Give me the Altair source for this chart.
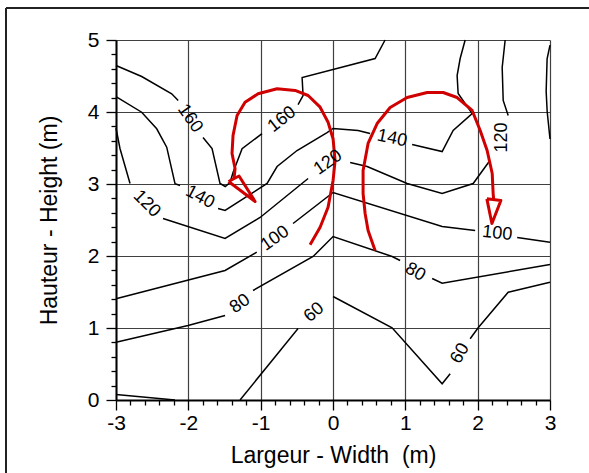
import altair as alt
import pandas as pd

# ---- contour pieces (x in m, y in m), broken where labels sit ----
c160a_x = [-3.0, -2.645, -2.23, -2.14]
c160a_y = [4.646, 4.493, 4.253, 4.16]
c160b_x = [-1.797, -1.672, -1.562, -1.49, -1.423, -1.382, -1.257, -0.981]
c160b_y = [3.646, 3.493, 3.007, 2.965, 3.02, 3.16, 3.49, 3.70]
c160c_x = [-0.483, -0.414, -0.427, 0.582, 0.72]
c160c_y = [4.104, 4.229, 4.479, 4.743, 5.0]

c140a_x = [-3.0, -2.645, -2.437, -2.299, -2.184, -2.115]
c140a_y = [4.215, 3.997, 3.767, 3.511, 3.003, 2.979]
c140b_x = [-1.589, -1.492, -0.911, -0.773, -0.497, -0.082, 0.001, 0.347, 0.513]
c140b_y = [2.660, 2.632, 3.007, 3.243, 3.465, 3.715, 3.771, 3.743, 3.701]
c140c_x = [1.094, 1.509, 1.661, 1.924, 1.730, 1.716, 1.758, 1.827]
c140c_y = [3.549, 3.451, 3.743, 3.979, 4.257, 4.507, 4.743, 5.0]

c120a_x = [-3.0, -2.945, -2.806]
c120a_y = [3.775, 3.493, 3.007]
c120b_x = [-2.350, -1.492, -1.008, -0.344]
c120b_y = [2.521, 2.243, 2.535, 3.076]
c120c_x = [0.237, 0.472, 1.025, 1.509, 1.938, 2.159]
c120c_y = [3.299, 3.243, 3.007, 2.868, 3.007, 3.313]
c120d_x = [2.422, 2.353, 2.339, 2.380]
c120d_y = [3.951, 4.160, 4.618, 5.0]

cedge_x = [3.0, 2.96, 2.947, 2.961, 3.0]
cedge_y = [4.93, 4.74, 4.285, 4.007, 3.625]

c100a_x = [-3.0, -1.492, -1.054]
c100a_y = [1.406, 1.799, 2.053]
c100b_x = [-0.552, 0.001, 1.509, 1.965]
c100b_y = [2.451, 2.882, 2.410, 2.354]
c100c_x = [2.546, 3.0]
c100c_y = [2.257, 2.19]

c80a_x = [-3.0, -2.004, -1.492]
c80a_y = [0.803, 1.035, 1.174]
c80b_x = [-1.105, -0.275, 0.001, 0.817, 0.928]
c80b_y = [1.521, 1.993, 2.271, 1.993, 1.938]
c80c_x = [1.371, 1.509, 3.0]
c80c_y = [1.688, 1.622, 1.882]

c60a_x = [-1.285, -0.483]
c60a_y = [0.0, 0.993]
c60b_x = [0.001, 0.817, 1.509, 1.620]
c60b_y = [1.438, 1.003, 0.225, 0.364]
c60c_x = [1.896, 2.007, 2.422, 3.0]
c60c_y = [0.85, 1.003, 1.497, 1.636]

c40_x = [-3.0, -2.184]
c40_y = [0.076, 0.0]

# ---- contour labels ----
lab_text = ["160", "160", "140", "140", "120", "120", "120", "100", "100", "80", "80", "60", "60"]
lab_x = [-1.976, -0.704, -1.838, 0.817, -2.575, -0.068, 2.339, -0.801, 2.270, -1.285, 1.136, -0.261, 1.758]
lab_y = [3.91, 3.896, 2.817, 3.632, 2.725, 3.299, 3.646, 2.243, 2.313, 1.336, 1.775, 1.215, 0.646]
lab_angle = [55, 322, 28, 12, 45, 325, 270, 325, 6, 325, 30, 320, 300]

# ---- red circulation arrows ----
arrL_x = [-0.317, -0.178, -0.068, 0.001, 0.029, 0.001, -0.068, -0.178, -0.344, -0.524,
          -0.773, -1.036, -1.216, -1.326, -1.382, -1.396, -1.354, -1.368]
arrL_y = [2.156, 2.400, 2.678, 3.049, 3.326, 3.628, 3.858, 4.067, 4.229, 4.299,
          4.322, 4.253, 4.136, 3.951, 3.674, 3.424, 3.215, 3.076]
headL_x = [-1.444, -1.077, -1.299, -1.444]
headL_y = [3.035, 2.757, 3.111, 3.035]
arrR_x = [0.582, 0.485, 0.444, 0.416, 0.416, 0.485, 0.610, 0.790, 1.025, 1.302,
          1.523, 1.716, 1.924, 2.035, 2.131, 2.201, 2.214, 2.221]
arrR_y = [2.076, 2.354, 2.590, 2.868, 3.188, 3.563, 3.840, 4.063, 4.201, 4.271,
          4.271, 4.201, 4.021, 3.743, 3.465, 3.146, 2.868, 2.785]
headR_x = [2.127, 2.197, 2.321, 2.127]
headR_y = [2.794, 2.451, 2.771, 2.794]

# axis tick values (major + minor)
x_ticks = [round(-3 + 0.2 * k, 1) for k in range(31)]
y_ticks = [round(0.2 * k, 1) for k in range(26)]

contour_pieces = {
    "160a": (c160a_x, c160a_y), "160b": (c160b_x, c160b_y), "160c": (c160c_x, c160c_y),
    "140a": (c140a_x, c140a_y), "140b": (c140b_x, c140b_y), "140c": (c140c_x, c140c_y),
    "120a": (c120a_x, c120a_y), "120b": (c120b_x, c120b_y), "120c": (c120c_x, c120c_y),
    "120d": (c120d_x, c120d_y), "edge": (cedge_x, cedge_y),
    "100a": (c100a_x, c100a_y), "100b": (c100b_x, c100b_y), "100c": (c100c_x, c100c_y),
    "80a": (c80a_x, c80a_y), "80b": (c80b_x, c80b_y), "80c": (c80c_x, c80c_y),
    "60a": (c60a_x, c60a_y), "60b": (c60b_x, c60b_y), "60c": (c60c_x, c60c_y),
    "40": (c40_x, c40_y),
}
red_pieces = {
    "arrL": (arrL_x, arrL_y), "headL": (headL_x, headL_y),
    "arrR": (arrR_x, arrR_y), "headR": (headR_x, headR_y),
}


def to_rows(pieces):
    rows = []
    for name, (xs, ys) in pieces.items():
        for i, (xv, yv) in enumerate(zip(xs, ys)):
            rows.append({"piece": name, "i": i, "x": xv, "y": yv})
    return pd.DataFrame(rows)


contours = to_rows(contour_pieces)
reds = to_rows(red_pieces)
labels = pd.DataFrame({"x": lab_x, "y": lab_y, "t": lab_text, "a": lab_angle})

FONT = "Liberation Sans"

xscale = alt.Scale(domain=[-3, 3], nice=False, zero=False)
yscale = alt.Scale(domain=[0, 5], nice=False, zero=False)

is_major = "abs(datum.value - round(datum.value)) < 0.001"

xaxis = alt.Axis(
    values=x_ticks, tickCount=200,
    title="Largeur - Width\u00a0 (m)",
    labelExpr=f"{is_major} ? toString(round(datum.value)) : ''",
    tickSize={"condition": {"test": is_major, "value": 10}, "value": 5},
    gridOpacity={"condition": {"test": is_major, "value": 1}, "value": 0},
    grid=True, gridColor="#404040", gridWidth=1.2,
    domainColor="black", domainWidth=2, tickColor="black", tickWidth=1.3,
    labelFont=FONT, labelFontSize=21, labelColor="black", labelPadding=2,
    titleFont=FONT, titleFontSize=23, titleFontWeight="normal", titleColor="black",
    titleX=217, titleY=62, titleBaseline="alphabetic", titleAlign="center",
    labelFlush=False, labelOverlap=False,
)
yaxis = alt.Axis(
    values=y_ticks, tickCount=200,
    title="Hauteur - Height (m)",
    labelExpr=f"{is_major} ? toString(round(datum.value)) : ''",
    tickSize={"condition": {"test": is_major, "value": 10}, "value": 5},
    gridOpacity={"condition": {"test": is_major, "value": 1}, "value": 0},
    grid=True, gridColor="#404040", gridWidth=1.2,
    domainColor="black", domainWidth=2, tickColor="black", tickWidth=1.3,
    labelFont=FONT, labelFontSize=21, labelColor="black", labelPadding=7,
    titleFont=FONT, titleFontSize=23, titleFontWeight="normal", titleColor="black",
    titleX=-60, titleY=180, titleBaseline="alphabetic", titleAlign="center", titleAngle=270,
    labelFlush=False, labelOverlap=False,
)

base_lines = alt.Chart(contours).mark_line(color="black", strokeWidth=1.5).encode(
    x=alt.X("x:Q", scale=xscale, axis=xaxis),
    y=alt.Y("y:Q", scale=yscale, axis=yaxis),
    detail="piece:N",
    order="i:Q",
)

red_lines = alt.Chart(reds).mark_line(color="#d00000", strokeWidth=3, strokeJoin="round").encode(
    x=alt.X("x:Q", scale=xscale),
    y=alt.Y("y:Q", scale=yscale),
    detail="piece:N",
    order="i:Q",
)

label_marks = alt.Chart(labels).mark_text(
    font=FONT, fontSize=18, color="black", align="center", baseline="middle"
).encode(
    x=alt.X("x:Q", scale=xscale),
    y=alt.Y("y:Q", scale=yscale),
    text="t:N",
    angle=alt.Angle("a:Q", scale=None),
)

frame_v = alt.Chart(pd.DataFrame({"k": [0]})).mark_rule(color="#222", strokeWidth=2).encode(
    x=alt.value(-110), y=alt.value(-32), y2=alt.value(520)
)
frame_h = alt.Chart(pd.DataFrame({"k": [0]})).mark_rule(color="#222", strokeWidth=2).encode(
    x=alt.value(-110), x2=alt.value(600), y=alt.value(-32)
)

chart = alt.layer(base_lines, red_lines, label_marks, frame_v, frame_h).properties(
    width=434,
    height=360,
    autosize=alt.AutoSizeParams(type="none"),
    padding={"left": 116, "top": 40, "right": 39, "bottom": 73},
    background="white",
).configure_view(stroke=None)

chart.save("out.html", embed_options={"renderer": "svg", "actions": False})
